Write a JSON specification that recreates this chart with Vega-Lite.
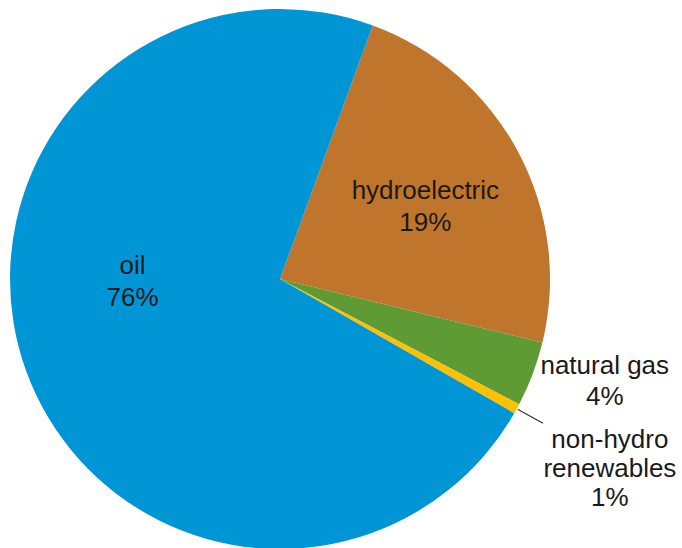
{
  "$schema": "https://vega.github.io/schema/vega-lite/v6.json",
  "width": 560,
  "height": 538,
  "autosize": {"type": "none"},
  "padding": {"left": 0, "top": 10, "right": 122, "bottom": 0},
  "background": "white",
  "config": {"view": {"stroke": null}},
  "data": {
    "values": [
      {"cat": "hydroelectric", "ord": 1, "value": 23.2, "label": "hydroelectric\n19%"},
      {"cat": "natural gas", "ord": 2, "value": 3.9, "label": "natural gas\n4%"},
      {"cat": "non-hydro renewables", "ord": 3, "value": 0.6, "label": "non-hydro\nrenewables\n1%"},
      {"cat": "oil", "ord": 4, "value": 72.3, "label": "oil\n76%"}
    ]
  },
  "encoding": {
    "theta": {"field": "value", "type": "quantitative", "stack": true, "scale": {"range": [0.35081, 6.634]}},
    "order": {"field": "ord", "type": "quantitative"}
  },
  "layer": [
    {
      "mark": {"type": "arc", "radius": 270},
      "encoding": {
        "color": {
          "field": "cat",
          "type": "nominal",
          "legend": null,
          "scale": {
            "domain": ["hydroelectric", "natural gas", "non-hydro renewables", "oil"],
            "range": ["#bf752b", "#5e9b35", "#ffc000", "#0096d6"]
          }
        }
      }
    },
    {
      "mark": {"type": "arc", "radius": 300, "radius2": 271, "padAngle": 0.2, "fillOpacity": 0, "stroke": "#333333", "strokeWidth": 1.2},
      "encoding": {
        "strokeOpacity": {"condition": {"test": "datum.cat === 'non-hydro renewables'", "value": 1}, "value": 0}
      }
    },
    {
      "mark": {"type": "text", "radius": 162, "dx": 2.5, "dy": -12, "font": "Liberation Sans", "fontSize": 26, "lineHeight": 32, "lineBreak": "\n", "align": "center", "baseline": "middle", "color": "#1a1a1a"},
      "encoding": {"text": {"condition": {"test": "datum.cat === 'hydroelectric'", "field": "label"}, "value": ""}}
    },
    {
      "mark": {"type": "text", "radius": 147, "dx": -9.4, "dy": -63, "font": "Liberation Sans", "fontSize": 26, "lineHeight": 32, "lineBreak": "\n", "align": "center", "baseline": "middle", "color": "#1a1a1a"},
      "encoding": {"text": {"condition": {"test": "datum.cat === 'oil'", "field": "label"}, "value": ""}}
    },
    {
      "mark": {"type": "text", "radius": 300, "dx": 44, "dy": -19, "font": "Liberation Sans", "fontSize": 26, "lineHeight": 31, "lineBreak": "\n", "align": "center", "baseline": "middle", "color": "#1a1a1a"},
      "encoding": {"text": {"condition": {"test": "datum.cat === 'natural gas'", "field": "label"}, "value": ""}}
    },
    {
      "mark": {"type": "text", "radius": 380, "dx": -3.3, "dy": -22, "font": "Liberation Sans", "fontSize": 26, "lineHeight": 29, "lineBreak": "\n", "align": "center", "baseline": "middle", "color": "#1a1a1a"},
      "encoding": {"text": {"condition": {"test": "datum.cat === 'non-hydro renewables'", "field": "label"}, "value": ""}}
    }
  ]
}
